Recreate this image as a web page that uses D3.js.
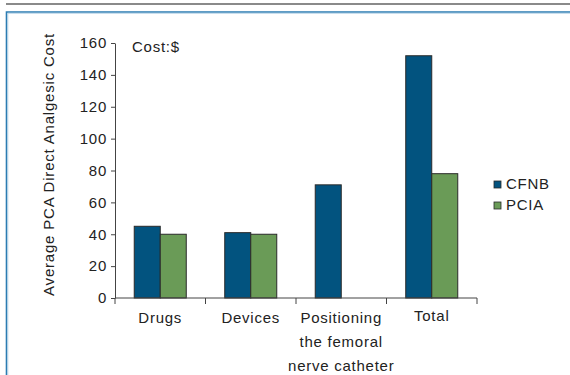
<!DOCTYPE html>
<html>
<head>
<meta charset="utf-8">
<script src="https://cdn.jsdelivr.net/npm/d3@7"></script>
<style>
  html, body { margin: 0; padding: 0; background: #fff; }
  svg { display: block; }
  text { font-family: "Liberation Sans", Arial, sans-serif; fill: #222; }
</style>
</head>
<body>
<svg id="chart" width="570" height="375"></svg>
<script>
// Cost categories and series
const categories = ["Drugs", "Devices", "Positioning\nthe femoral\nnerve catheter", "Total"];
const series = ["CFNB", "PCIA"];
const cfnbValues = [45, 41, 71, 152];
const pciaValues = [40, 40, null, 78];
const yTicks = [0, 20, 40, 60, 80, 100, 120, 140, 160];
const colors = { CFNB: "#02537f", PCIA: "#6a9b57" };

const svg = d3.select("#chart");

// page frame: grey rule and blue panel border
svg.append("line").attr("x1", 6).attr("x2", 570).attr("y1", 4).attr("y2", 4)
  .attr("stroke", "#8a8a8a").attr("stroke-width", 2);
svg.append("path").attr("d", "M6.5,380 V12 H575")
  .attr("fill", "none").attr("stroke", "#2b7cb2").attr("stroke-width", 1.6);
svg.append("path").attr("d", "M7.8,380 V13.3 H575")
  .attr("fill", "none").attr("stroke", "#a9cbe2").attr("stroke-width", 0.8);

const plot = { left: 115, right: 477, top: 43, bottom: 298 };
const fontSize = 15;
const spacing = 0.75;

const x0 = d3.scaleBand().domain(categories).range([plot.left, plot.right]).padding(0);
const x1 = d3.scaleBand().domain(series).range([0, x0.bandwidth()]).paddingOuter(0.74).paddingInner(0);
const y = d3.scaleLinear().domain([0, 160]).range([plot.bottom, plot.top]);

// y axis
const yAxis = svg.append("g").attr("transform", `translate(${plot.left},0)`)
  .call(d3.axisLeft(y).tickValues(yTicks).tickSize(4).tickSizeOuter(0).tickPadding(4));
yAxis.select(".domain").attr("stroke", "#444");
yAxis.selectAll(".tick line").attr("stroke", "#444");
yAxis.selectAll(".tick text").attr("font-size", fontSize).attr("letter-spacing", spacing)
  .attr("fill", "#222").attr("font-family", "Liberation Sans, Arial, sans-serif");

// bars
const rows = categories.map((c, i) => ({ cat: c, vals: [
  { key: "CFNB", v: cfnbValues[i] }, { key: "PCIA", v: pciaValues[i] }
]}));
const groups = svg.append("g").selectAll("g").data(rows).join("g")
  .attr("transform", d => `translate(${x0(d.cat)},0)`);
groups.selectAll("rect").data(d => d.vals.filter(e => e.v != null)).join("rect")
  .attr("x", d => x1(d.key))
  .attr("width", x1.bandwidth())
  .attr("y", d => y(d.v))
  .attr("height", d => y(0) - y(d.v))
  .attr("fill", d => colors[d.key])
  .attr("stroke", "#2a2a2a").attr("stroke-width", 1);

// x axis with ticks at category boundaries
const xAxis = svg.append("g").attr("transform", `translate(0,${plot.bottom})`);
xAxis.append("line").attr("x1", plot.left).attr("x2", plot.right)
  .attr("stroke", "#444");
const edges = categories.map(c => x0(c)).concat([x0.range()[1]]);
xAxis.selectAll(".edge").data(edges).join("line").attr("class", "edge")
  .attr("x1", d => d).attr("x2", d => d).attr("y1", 0).attr("y2", 6)
  .attr("stroke", "#444");

// category labels
const labels = svg.append("g").selectAll("text").data(categories).join("text")
  .attr("x", d => x0(d) + x0.bandwidth() / 2)
  .attr("y", (d, i) => i === categories.length - 1 ? 321 : 323)
  .attr("text-anchor", "middle")
  .attr("font-size", fontSize).attr("letter-spacing", spacing);
labels.each(function(d) {
  const lines = d.split("\n");
  d3.select(this).selectAll("tspan").data(lines).join("tspan")
    .attr("x", x0(d) + x0.bandwidth() / 2)
    .attr("dy", (l, i) => i === 0 ? 0 : 24)
    .text(l => l);
});

// unit note
svg.append("text").attr("x", 132).attr("y", 52)
  .attr("font-size", fontSize).attr("letter-spacing", spacing).text("Cost:$");

// y axis title
svg.append("text")
  .attr("transform", `translate(54,${(plot.top + plot.bottom) / 2 - 6}) rotate(-90)`)
  .attr("text-anchor", "middle")
  .attr("font-size", fontSize).attr("letter-spacing", 0.8)
  .text("Average PCA Direct Analgesic Cost");

// legend
const legend = svg.append("g").selectAll("g").data(series).join("g")
  .attr("transform", (d, i) => `translate(494,${181 + i * 21})`);
legend.append("rect").attr("width", 7).attr("height", 7)
  .attr("fill", d => colors[d]).attr("stroke", "#2a2a2a").attr("stroke-width", 0.8);
legend.append("text").attr("x", 12).attr("y", 7.5)
  .attr("font-size", fontSize).attr("letter-spacing", spacing).text(d => d);
</script>
</body>
</html>
